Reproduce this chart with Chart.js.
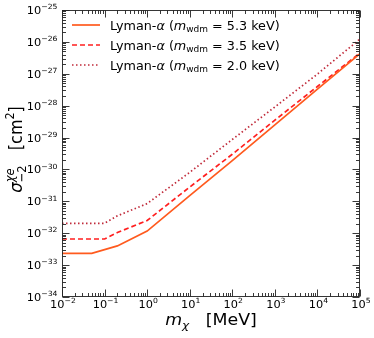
<!DOCTYPE html>
<html><head><meta charset="utf-8">
<script src="https://cdn.jsdelivr.net/npm/chart.js@4.4.0/dist/chart.umd.min.js"></script>
<style>html,body{margin:0;padding:0;background:#fff}#wrap{width:374px;height:338px;position:relative}</style>
</head><body><div id="wrap"><canvas id="c"></canvas></div>
<script>
// ---- data ----
const wdmMasses = ['5.3', '3.5', '2.0'];           // keV, legend labels
const xSolid  = [0.01, 0.05, 0.2, 1, 10, 100, 1000, 10000, 100000];
const ySolid  = [2.35e-33, 2.35e-33, 4.0e-33, 1.17e-32, 1.5e-31, 1.9e-30, 2.5e-29, 3.3e-28, 4.3e-27];
const xDashed = [0.01, 0.1, 0.2, 1, 10, 100, 1000, 10000, 100000];
const yDashed = [6.6e-33, 6.6e-33, 1.05e-32, 2.5e-32, 2.8e-31, 3.0e-30, 3.5e-29, 4.0e-28, 4.5e-27];
const xDotted = [0.01, 0.1, 0.2, 1, 10, 100, 1000, 10000, 100000];
const yDotted = [2.05e-32, 2.05e-32, 3.5e-32, 8.5e-32, 8.1e-31, 8.7e-30, 9.1e-29, 9.8e-28, 1.23e-26];
const xTickExps = [-2, -1, 0, 1, 2, 3, 4, 5];
const yTickExps = [-34, -33, -32, -31, -30, -29, -28, -27, -26, -25];

// ---- styles ----
const colSolid = '#ff5a1e', colDashed = '#ff1f1f', colDotted = '#c02a3a';
const FONT = '"DejaVu Sans", "Liberation Sans", sans-serif';
const HS = 1.12;  // horizontal text stretch seen in reference
const AREA = { left: 62, top: 10, right: 360, bottom: 297 };

function pts(xs, ys) { return xs.map((x, i) => ({ x: x, y: ys[i] })); }

function fontOf(r) { return (r.italic ? 'italic ' : '') + r.size + 'px ' + FONT; }
function runWidth(ctx, r) {
  if (r.stack) return Math.max(...r.stack.map(s => seqWidth(ctx, s)));
  ctx.font = fontOf(r); return ctx.measureText(r.t).width;
}
function seqWidth(ctx, runs) { return runs.reduce((a, r) => a + runWidth(ctx, r), 0); }
function drawSeq(ctx, runs, x0) {
  let x = x0;
  for (const r of runs) {
    if (r.stack) {
      for (const s of r.stack) drawSeq(ctx, s, x);
      x += runWidth(ctx, r);
    } else {
      ctx.font = fontOf(r);
      ctx.fillText(r.t, x, r.dy || 0);
      x += ctx.measureText(r.t).width;
    }
  }
}
function drawRuns(ctx, runs, x, y, align, hs) {
  const h = hs || HS;
  const w = seqWidth(ctx, runs);
  const start = align === 'right' ? -w : align === 'center' ? -w / 2 : 0;
  ctx.save(); ctx.translate(x, y); ctx.scale(h, 1);
  ctx.textBaseline = 'alphabetic'; ctx.textAlign = 'left';
  drawSeq(ctx, runs, start); ctx.restore();
}
function drawRunsRot(ctx, runs, x, y) {
  const w = seqWidth(ctx, runs);
  ctx.save(); ctx.translate(x, y); ctx.rotate(-Math.PI / 2); ctx.scale(1, HS);
  ctx.textBaseline = 'alphabetic'; ctx.textAlign = 'left';
  drawSeq(ctx, runs, -w / 2); ctx.restore();
}
function powRuns(exp, size) {
  return [{ t: '10', size: size }, { t: (exp < 0 ? '\u2212' : '') + Math.abs(exp), size: size * 0.68, dy: -size * 0.45 }];
}

const fixArea = {
  id: 'fixArea',
  afterLayout(chart) {
    const ca = chart.chartArea;
    ca.left = AREA.left; ca.right = AREA.right; ca.top = AREA.top; ca.bottom = AREA.bottom;
    ca.width = AREA.right - AREA.left; ca.height = AREA.bottom - AREA.top;
    const xs = chart.scales.x, ys = chart.scales.y;
    xs.left = AREA.left; xs.right = AREA.right; xs.width = ca.width; xs.configure();
    ys.top = AREA.top; ys.bottom = AREA.bottom; ys.height = ca.height; ys.configure();
  }
};

const decor = {
  id: 'decor',
  afterDraw(chart) {
    const ctx = chart.ctx, a = chart.chartArea, xs = chart.scales.x, ys = chart.scales.y;
    ctx.save();
    ctx.fillStyle = '#000'; ctx.strokeStyle = '#222'; ctx.lineWidth = 0.9;
    const L0 = Math.round(a.left) + 0.5, R0 = Math.round(a.right) - 0.5, T0 = Math.round(a.top) + 0.5, B0 = Math.round(a.bottom) - 0.5;
    ctx.strokeRect(L0, T0, R0 - L0, B0 - T0);
    ctx.beginPath();
    for (const e of xTickExps) {
      for (let m = 1; m <= 9; m++) {
        const v = m * Math.pow(10, e);
        if (v > 1e5 * 1.0001) continue;
        const px = Math.round(xs.getPixelForValue(v)) + 0.5;
        const L = m === 1 ? 7 : 3.5;
        ctx.moveTo(px, B0); ctx.lineTo(px, B0 - L);
        ctx.moveTo(px, T0); ctx.lineTo(px, T0 + L);
      }
    }
    for (const e of yTickExps) {
      for (let m = 1; m <= 9; m++) {
        const v = m * Math.pow(10, e);
        if (v > 1e-25 * 1.0001) continue;
        const py = Math.round(ys.getPixelForValue(v)) + 0.5;
        const L = m === 1 ? 7 : 3.5;
        ctx.moveTo(L0, py); ctx.lineTo(L0 + L, py);
        ctx.moveTo(R0, py); ctx.lineTo(R0 - L, py);
      }
    }
    ctx.stroke();
    const TS = 10.5;
    for (const e of yTickExps) {
      const py = ys.getPixelForValue(Math.pow(10, e));
      drawRuns(ctx, powRuns(e, TS), a.left - 4.5, py + 4, 'right', 1.08);
    }
    for (const e of xTickExps) {
      const px = xs.getPixelForValue(Math.pow(10, e));
      drawRuns(ctx, powRuns(e, TS), px + 1, a.bottom + 11, 'center', 1.08);
    }
    drawRuns(ctx, [
      { t: 'm', size: 15.5, italic: true },
      { t: '\u03c7', size: 10.8, italic: true, dy: 3.5 },
      { t: '   [MeV]', size: 15.5 }
    ], (a.left + a.right) / 2, 325, 'center');
    drawRunsRot(ctx, [
      { t: '\u03c3', size: 16.5, italic: true },
      { stack: [
        [{ t: '\u03c7e', size: 11.5, italic: true, dy: -7.5 }],
        [{ t: '\u22122', size: 11.5, dy: 4 }]
      ] },
      { t: '   [cm', size: 16 },
      { t: '2', size: 11.2, dy: -7 },
      { t: ']', size: 16 }
    ], 22, (a.top + a.bottom) / 2 - 4);
    const cols = [colSolid, colDashed, colDotted];
    const dashes = [[], [5, 3], [1.5, 2.5]];
    for (let i = 0; i < wdmMasses.length; i++) {
      const yy = 25 + i * 20;
      ctx.save(); ctx.strokeStyle = cols[i]; ctx.lineWidth = 1.7; ctx.setLineDash(dashes[i]);
      ctx.beginPath(); ctx.moveTo(72, yy); ctx.lineTo(100, yy); ctx.stroke(); ctx.restore();
      ctx.fillStyle = '#000';
      drawRuns(ctx, [
        { t: 'Lyman-', size: 11.4 },
        { t: '\u03b1', size: 11.4, italic: true },
        { t: ' (', size: 11.4 },
        { t: 'm', size: 11.4, italic: true },
        { t: 'wdm', size: 8, dy: 2.5 },
        { t: ' = ' + wdmMasses[i] + ' keV)', size: 11.4 }
      ], 110, yy + 4.5, 'left');
    }
    ctx.restore();
  }
};

new Chart(document.getElementById('c'), {
  type: 'line',
  data: {
    datasets: [
      { data: pts(xSolid, ySolid), borderColor: colSolid, borderWidth: 1.7, pointRadius: 0, fill: false, tension: 0 },
      { data: pts(xDashed, yDashed), borderColor: colDashed, borderWidth: 1.7, borderDash: [5, 3], pointRadius: 0, fill: false, tension: 0 },
      { data: pts(xDotted, yDotted), borderColor: colDotted, borderWidth: 1.7, borderDash: [1.5, 2.5], pointRadius: 0, fill: false, tension: 0 }
    ]
  },
  options: {
    animation: false, responsive: true, maintainAspectRatio: false,
    layout: { padding: { left: 62, top: 10, right: 14, bottom: 41 } },
    plugins: { legend: { display: false }, tooltip: { enabled: false } },
    scales: {
      x: { type: 'logarithmic', min: 0.01, max: 1e5, ticks: { display: false }, grid: { display: false }, border: { display: false },
           afterFit: s => { s.height = 0; } },
      y: { type: 'logarithmic', min: 1e-34, max: 1e-25, ticks: { display: false }, grid: { display: false }, border: { display: false },
           afterFit: s => { s.width = 0; } }
    }
  },
  plugins: [fixArea, decor]
});
</script>
</body></html>
